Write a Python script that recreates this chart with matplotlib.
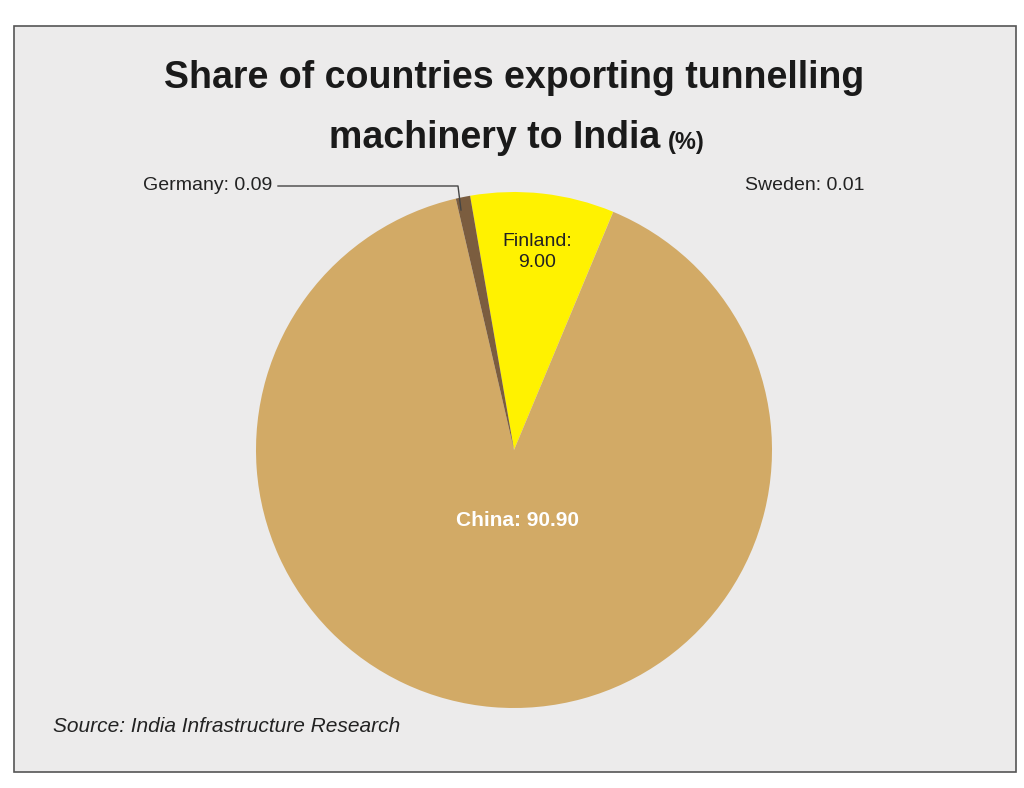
import matplotlib.pyplot as plt
from matplotlib.lines import Line2D
from matplotlib.patches import Rectangle

# data (clockwise from Finland)
countries = ['Finland', 'Sweden', 'China', 'Germany']
shares = [9.00, 0.01, 90.90, 0.09]
# wedge sizes as drawn in the picture (Germany sliver is drawn wider than its share)
wedge_sizes = [9.0, 0.01, 90.1, 0.9]
colors = ['#fff200', '#fff200', '#d2aa66', '#7b5d3f']

W, H = 1024, 788
fig = plt.figure(figsize=(W / 100, H / 100), dpi=100)
fig.patch.set_facecolor('white')
frame = Rectangle((14 / W, 1 - 772 / H), 1002 / W, 746 / H, transform=fig.transFigure,
                  facecolor='#ecebeb', edgecolor='#555555', lw=1.2, zorder=-10)
fig.patches.append(frame)

cx, cy, r = 514, 450, 258
ax = fig.add_axes([(cx - r) / W, 1 - (cy + r) / H, 2 * r / W, 2 * r / H])
ax.set_facecolor('none')
ax.pie(wedge_sizes, colors=colors, startangle=99.8, counterclock=False, radius=1,
       wedgeprops=dict(linewidth=0))
ax.set_xlim(-1, 1)
ax.set_ylim(-1, 1)
ax.set_aspect('equal')
ax.axis('off')

font = ['Liberation Sans', 'DejaVu Sans']

def px(x, y):
    return x / W, 1 - y / H

fig.text(*px(514, 78), 'Share of countries exporting tunnelling', ha='center', va='center',
         fontsize=27, fontweight='bold', family=font, color='#1a1a1a')
fig.text(*px(660, 138), 'machinery to India', ha='right', va='center',
         fontsize=27, fontweight='bold', family=font, color='#1a1a1a')
fig.text(*px(668, 142), '(%)', ha='left', va='center',
         fontsize=17, fontweight='bold', family=font, color='#1a1a1a')

fig.text(*px(272, 186), f'{countries[3]}: {shares[3]:.2f}', ha='right', va='center',
         fontsize=14, family=font, color='#222222')
fig.text(*px(745, 186), f'{countries[1]}: {shares[1]:.2f}', ha='left', va='center',
         fontsize=14, family=font, color='#222222')
fig.add_artist(Line2D([278 / W, 458 / W, 461 / W], [1 - 186 / H, 1 - 186 / H, 1 - 210 / H],
                      transform=fig.transFigure, color='#444444', lw=1))
fig.text(*px(537, 252), f'{countries[0]}:\n{shares[0]:.2f}', ha='center', va='center',
         fontsize=14, family=font, color='#222222', linespacing=1.3)
fig.text(*px(517, 521), f'{countries[2]}: {shares[2]:.2f}', ha='center', va='center',
         fontsize=15, fontweight='bold', family=font, color='white')
fig.text(*px(53, 727), 'Source: India Infrastructure Research', ha='left', va='center',
         fontsize=15, style='italic', family=font, color='#222222')

fig.savefig('out.png', dpi=100, facecolor=fig.get_facecolor())
